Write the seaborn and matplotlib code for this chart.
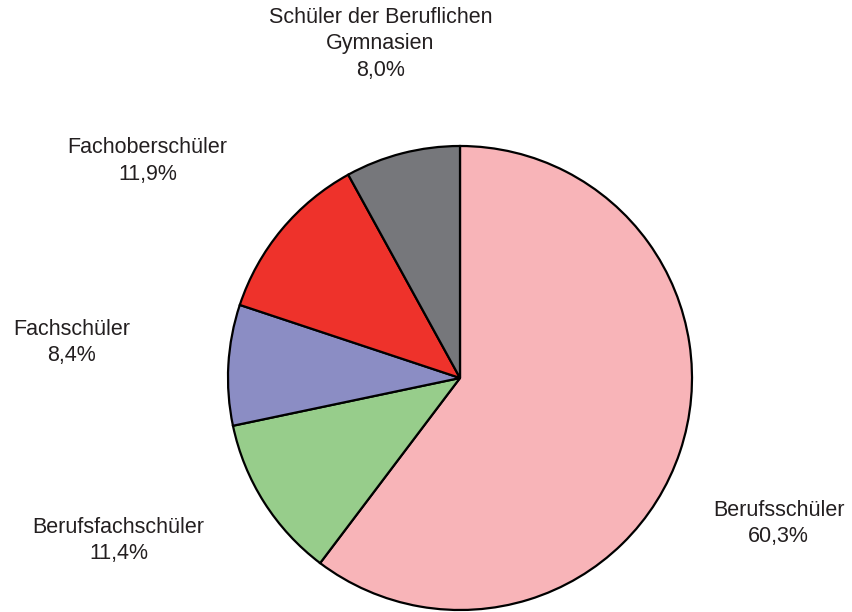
import numpy as np
import matplotlib
matplotlib.use("Agg")
import matplotlib.pyplot as plt
import seaborn as sns

# Data
categories = [
    "Berufsschüler",
    "Berufsfachschüler",
    "Fachschüler",
    "Fachoberschüler",
    "Schüler der Beruflichen\nGymnasien",
]
shares = [60.3, 11.4, 8.4, 11.9, 8.0]
colors = ["#F8B4B8", "#97CD8B", "#8B8DC4", "#EE322B", "#76777B"]

# label distance (in radii) and angle tweak (deg) per wedge
label_dist = [1.51, 1.63, 1.68, 1.64, 1.48]
label_turn = [-6, -7, -2, 5, -1]

sns.set_theme(style="white")
plt.rcParams['font.family'] = ['Liberation Sans', 'DejaVu Sans']

W, H = 852, 612
fig = plt.figure(figsize=(W / 100, H / 100), dpi=100)
ax = fig.add_axes([0, 0, 1, 1])

cx, cy, r = 460, H - 378, 232
wedges, _ = ax.pie(
    shares,
    colors=sns.color_palette(colors),
    startangle=90,
    counterclock=False,
    center=(cx, cy),
    radius=r,
    frame=True,
    wedgeprops={'edgecolor': 'black', 'linewidth': 1.6},
)
ax.set_xlim(0, W)
ax.set_ylim(0, H)
ax.set_aspect('equal')
ax.axis('off')

for w, name, val, d, t in zip(wedges, categories, shares, label_dist, label_turn):
    mid = np.deg2rad((w.theta1 + w.theta2) / 2 + t)
    x = cx + d * r * np.cos(mid)
    y = cy + d * r * np.sin(mid)
    label = f"{name}\n{val:.1f}%".replace('.', ',')
    ax.text(x, y, label, ha='center', va='center', fontsize=15.5,
            color='#231F20', linespacing=1.32)

fig.savefig("out.png", dpi=100)
